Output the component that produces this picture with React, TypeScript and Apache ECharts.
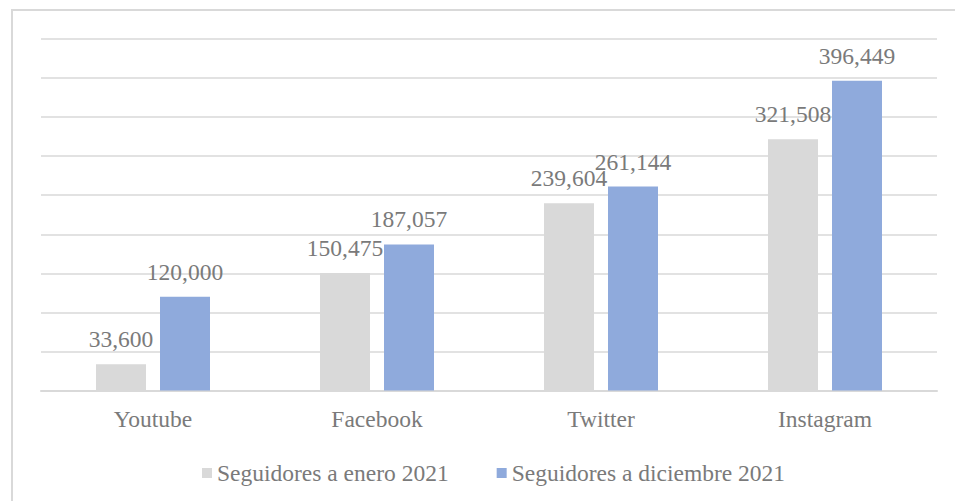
import React, { useEffect, useRef } from "react";
import * as echarts from "echarts";

const categories = ["Youtube", "Facebook", "Twitter", "Instagram"];
const seriesNames = ["Seguidores a enero 2021", "Seguidores a diciembre 2021"];
const enero2021 = [33600, 150475, 239604, 321508];
const diciembre2021 = [120000, 187057, 261144, 396449];

const FONT = "'Liberation Serif', 'Times New Roman', serif";
const TEXT = "#7a7a7a";
const GRAY = "#d9d9d9";
const BLUE = "#8faadc";

const fmt = (v: number) => v.toLocaleString("en-US");

export default function App() {
  const ref = useRef<HTMLDivElement>(null);
  useEffect(() => {
    if (!ref.current) return;
    const chart = echarts.init(ref.current, undefined, { renderer: "svg" });
    const label = {
      show: true,
      position: "top" as const,
      distance: 13,
      color: TEXT,
      fontFamily: FONT,
      fontSize: 23.5,
      formatter: (p: any) => fmt(p.value),
    };
    chart.setOption({
      animation: false,
      backgroundColor: "#ffffff",
      graphic: [
        {
          type: "rect",
          shape: { x: 12, y: 10, width: 1000, height: 600 },
          style: { fill: "none", stroke: "#d9d9d9", lineWidth: 2 },
          silent: true,
        },
      ],
      grid: { left: 41, right: 18, top: 39, bottom: 110.5, containLabel: false },
      legend: {
        left: 197,
        top: 456,
        itemWidth: 10,
        itemHeight: 10,
        itemGap: 48,
        icon: "rect",
        textStyle: { color: TEXT, fontFamily: FONT, fontSize: 23.5 },
        data: seriesNames,
      },
      xAxis: {
        type: "category",
        data: categories,
        axisLine: { show: true, lineStyle: { color: GRAY, width: 2 } },
        axisTick: { show: false },
        axisLabel: { color: TEXT, fontFamily: FONT, fontSize: 23.5, margin: 16 },
      },
      yAxis: {
        type: "value",
        min: 0,
        max: 450000,
        interval: 50000,
        axisLine: { show: false },
        axisTick: { show: false },
        axisLabel: { show: false },
        splitLine: { lineStyle: { color: GRAY, width: 1.5 } },
      },
      series: [
        {
          name: seriesNames[0],
          type: "bar",
          data: enero2021,
          barWidth: 50,
          barGap: "28%",
          itemStyle: { color: GRAY },
          label,
        },
        {
          name: seriesNames[1],
          type: "bar",
          data: diciembre2021,
          barWidth: 50,
          barGap: "28%",
          itemStyle: { color: BLUE },
          label,
        },
      ],
    });
    return () => chart.dispose();
  }, []);
  return <div ref={ref} style={{ width: 955, height: 501, position: "fixed", left: 0, top: 0 }} />;
}
